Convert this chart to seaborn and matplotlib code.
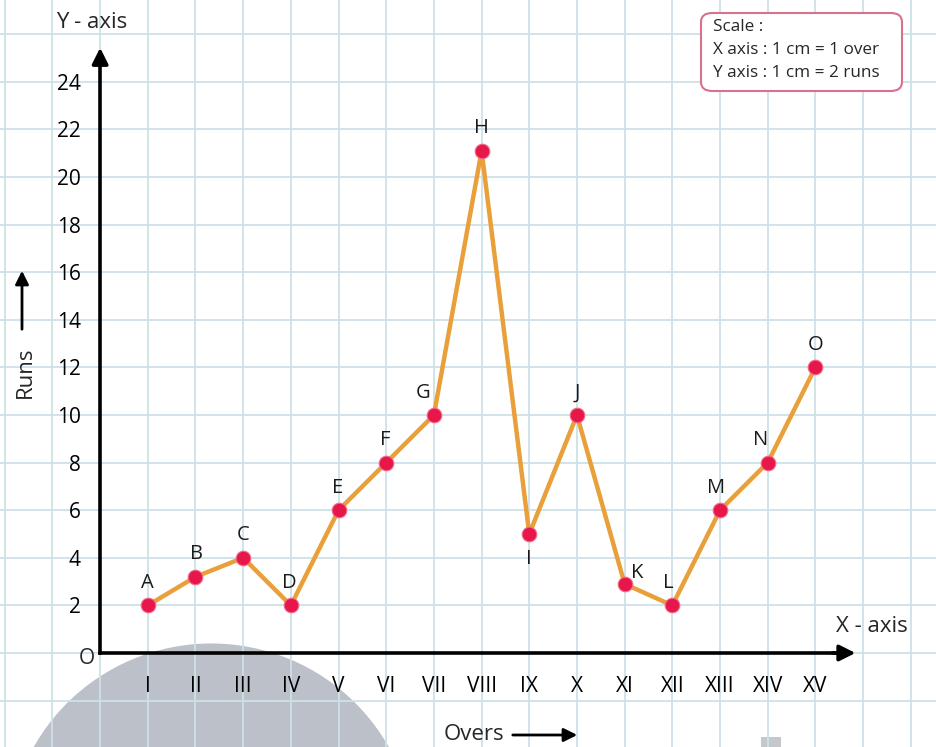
import numpy as np
import pandas as pd
import matplotlib
matplotlib.use("Agg")
import matplotlib.pyplot as plt
import seaborn as sns
from matplotlib.patches import Ellipse, FancyBboxPatch, Rectangle, FancyArrowPatch

# dados
overs = list(range(1, 16))
roman = ["I", "II", "III", "IV", "V", "VI", "VII", "VIII", "IX", "X",
         "XI", "XII", "XIII", "XIV", "XV"]
runs = [2, 3.2, 4, 2, 6, 8, 10, 21.1, 5, 10, 2.9, 2, 6, 8, 12]
letters = ["A", "B", "C", "D", "E", "F", "G", "H", "I", "J", "K", "L", "M", "N", "O"]
y_ticks = list(range(2, 25, 2))

# deslocamento (pontos) do rotulo de cada ponto
label_offsets = [(0, 9), (1, 9), (0, 9), (-1, 9), (-1, 9), (-1, 9), (-8, 9), (0, 9),
                 (0, -11), (0, 9), (9, 1), (-3, 9), (-3, 9), (-5, 9), (0, 9)]

df = pd.DataFrame({"over": overs, "runs": runs, "ponto": letters})

sns.set_style("white")
plt.rcParams["font.family"] = ["Open Sans", "DejaVu Sans"]

fig = plt.figure(figsize=(9.36, 7.47), dpi=100)
ax = fig.add_axes([0, 0, 1, 1])
ax.set_xlim(-2.10, 17.53)
ax.set_ylim(-3.95, 27.44)

# papel quadriculado (major + minor cobrem todas as linhas)
ax.set_xticks(np.arange(-2, 18), minor=True)
ax.set_yticks(np.arange(-2, 28, 2), minor=True)
ax.grid(which="both", color="#cde2e8", lw=1.3, ls="-")
ax.set_axisbelow(True)
ax.tick_params(which="minor", length=0)

# mancha cinza do fundo
ax.add_patch(Ellipse((2.33, -8.15), 8.55, 17.1, color="#bcc0c8", zorder=0.3, lw=0))
ax.add_patch(Rectangle((13.85, -3.95), 0.42, 0.42, color="#c4c7cc", zorder=0.3, lw=0))

# linha e pontos
sns.lineplot(data=df, x="over", y="runs", color="#e9a03a", lw=3.2, ax=ax, zorder=3)
sns.scatterplot(data=df, x="over", y="runs", color="#e8174b", s=110, edgecolor="#f06a85",
                linewidth=0.8, ax=ax, zorder=4)

for x, y, t, off in zip(overs, runs, letters, label_offsets):
    ax.annotate(t, (x, y), xytext=off, textcoords="offset points", ha="center",
                va="bottom" if off[1] > 0 else "top", fontsize=14.5, color="#1a1a1a")

# eixos
for s in ["top", "right"]:
    ax.spines[s].set_visible(False)
ax.spines["left"].set_position(("data", 0))
ax.spines["bottom"].set_position(("data", 0))
ax.spines["left"].set_bounds(0, 25.0)
ax.spines["bottom"].set_bounds(0, 15.5)
for s in ["left", "bottom"]:
    ax.spines[s].set_linewidth(2.6)
    ax.spines[s].set_color("black")
    ax.spines[s].set_zorder(2.5)
ax.annotate("", xy=(15.9, 0), xytext=(15.3, 0),
            arrowprops=dict(arrowstyle="-|>", color="black", lw=2.6, mutation_scale=24))
ax.annotate("", xy=(0, 25.55), xytext=(0, 24.6),
            arrowprops=dict(arrowstyle="-|>", color="black", lw=2.6, mutation_scale=24))

ax.set_xticks(overs)
ax.set_xticklabels(roman)
ax.set_yticks(y_ticks)
ax.set_yticklabels([str(v) for v in y_ticks])
ax.tick_params(axis="x", which="major", direction="inout", length=13, width=2.2,
               pad=10, labelsize=15, colors="black")
ax.tick_params(axis="y", which="major", direction="out", length=7, width=2.2,
               pad=7, labelsize=15, colors="black")
ax.set_xlabel("")
ax.set_ylabel("")

# textos dos eixos
fig.text(92 / 936, 1 - 22 / 747, "Y - axis", fontsize=16, ha="center", va="center")
fig.text(872 / 936, 1 - 627 / 747, "X - axis", fontsize=16, ha="center", va="center")
fig.text(87 / 936, 1 - 659 / 747, "O", fontsize=15, ha="center", va="center")
fig.text(474 / 936, 1 - 735 / 747, "Overs", fontsize=16, ha="center", va="center")
fig.text(25 / 936, 1 - 372 / 747, "Runs", fontsize=16, ha="center", va="center", rotation=90)
fig.add_artist(FancyArrowPatch((510 / 936, 1 - 735 / 747), (580 / 936, 1 - 735 / 747),
               transform=fig.transFigure, arrowstyle="-|>", mutation_scale=20, lw=2, color="black"))
fig.add_artist(FancyArrowPatch((22 / 936, 1 - 332 / 747), (22 / 936, 1 - 268 / 747),
               transform=fig.transFigure, arrowstyle="-|>", mutation_scale=20, lw=2, color="black"))

# caixa de escala
fig.add_artist(FancyBboxPatch((701 / 936, 1 - 91 / 747), 201 / 936, 78 / 747,
               boxstyle="round,pad=0,rounding_size=0.012", transform=fig.transFigure,
               fc="white", ec="#d9708c", lw=1.5))
for i, linha in enumerate(["Scale :", "X axis : 1 cm = 1 over", "Y axis : 1 cm = 2 runs"]):
    fig.text(713 / 936, 1 - (27 + 23 * i) / 747, linha, fontsize=12.3, ha="left", va="center")

fig.savefig("out.png", dpi=100)
